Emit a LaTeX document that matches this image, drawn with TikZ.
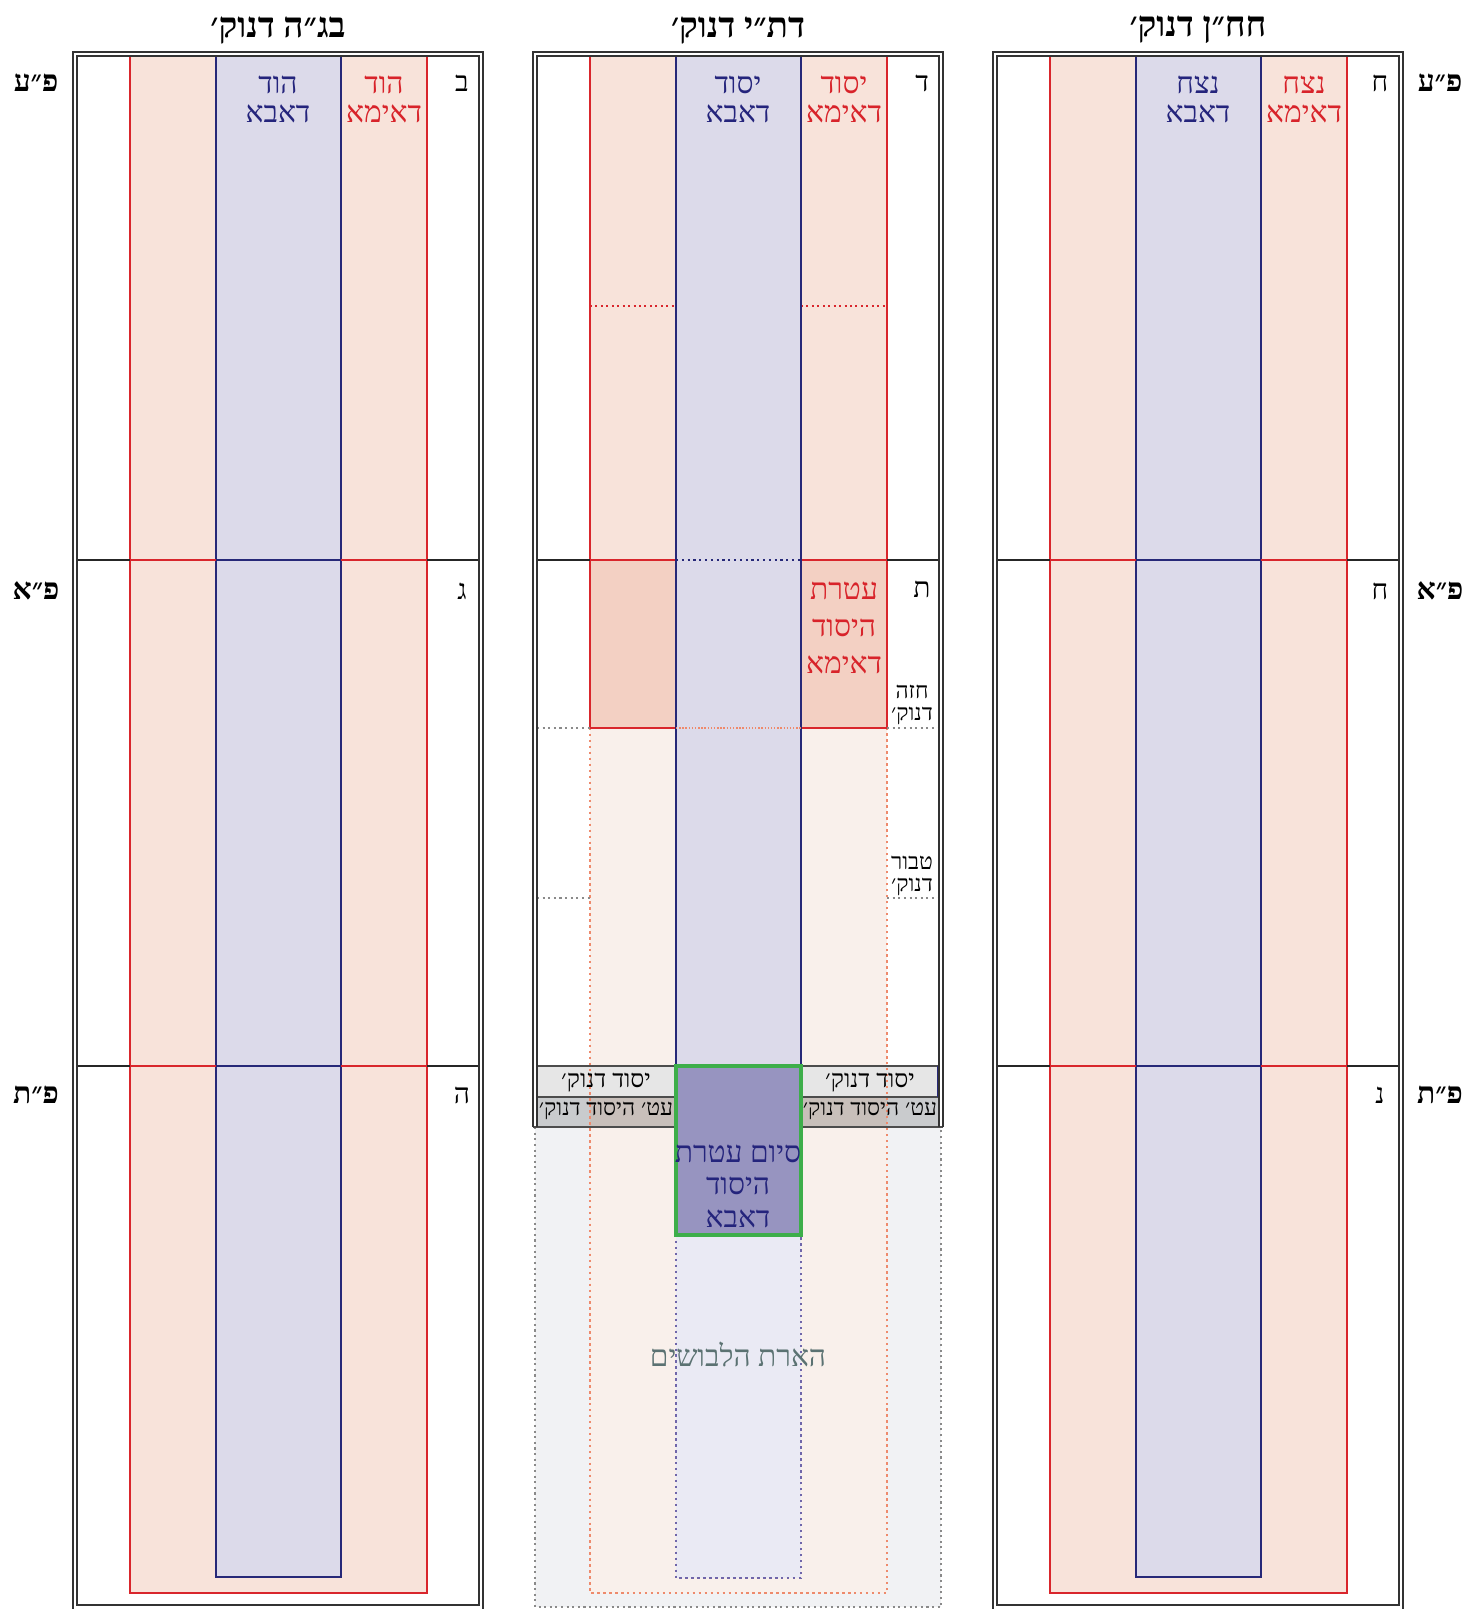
\documentclass[tikz,border=0pt]{standalone}
\usepackage{fontspec}
\setmainfont{Liberation Serif}
\newfontfamily\hebfont[Script=Hebrew]{Liberation Serif}
\TeXXeTstate=1
\usetikzlibrary{positioning}
\usetikzlibrary{calc}

\definecolor{pinkfill}{HTML}{F8E3DA}
\definecolor{deeppink}{HTML}{F3D0C3}
\definecolor{palepink}{HTML}{F9F0EB}
\definecolor{lavfill}{HTML}{DCDAEA}
\definecolor{palelav}{HTML}{EAEAF4}
\definecolor{grayzone}{HTML}{F1F2F4}
\definecolor{redln}{HTML}{D9262C}
\definecolor{blueln}{HTML}{262878}
\definecolor{redtxt}{HTML}{D8232A}
\definecolor{bluetxt}{HTML}{24247C}
\definecolor{greenln}{HTML}{3DAE4A}
\definecolor{boxfill}{HTML}{9794C0}
\definecolor{bandtop}{HTML}{E6E6E6}
\definecolor{bandlow}{HTML}{C9CBCD}
\definecolor{bandpink}{HTML}{C8BFBA}
\definecolor{dotorange}{HTML}{EE8A6C}
\definecolor{dotpurple}{HTML}{7066AA}
\definecolor{dotgray}{HTML}{8A8A8A}
\definecolor{glowtxt}{HTML}{5B7272}

\newcommand{\rl}[1]{\beginR #1\endR}

\begin{document}
\begin{tikzpicture}[x=0.02cm,y=-0.02cm,
    frame/.style={draw=black!80, line width=0.9pt},
    rowline/.style={draw=black!85, line width=1.1pt},
    redline/.style={draw=redln, line width=1.1pt},
    blueline/.style={draw=blueln, line width=1.1pt},
    reddots/.style={draw=dotorange, line width=1.4pt, dotted},
    bluedots/.style={draw=dotpurple, line width=1.4pt, dotted},
    graydots/.style={draw=dotgray, line width=1.2pt, dotted},
    title/.style={font=\hebfont\bfseries\fontsize{20}{20}\selectfont},
    side/.style={font=\hebfont\bfseries\fontsize{17}{17}\selectfont},
    letter/.style={font=\hebfont\fontsize{16}{16}\selectfont},
    coltext/.style={font=\hebfont\fontsize{17}{16.5}\selectfont, align=center},
    small/.style={font=\hebfont\fontsize{13}{13}\selectfont, align=center},
    bandtext/.style={font=\hebfont\fontsize{14}{14}\selectfont}]
\useasboundingbox (0,0) rectangle (1467,1609);

% side panels
\foreach \px in {73,993}{
  \fill[pinkfill] (\px+57,56) rectangle (\px+354,1593);
  \fill[lavfill] (\px+143,56) rectangle (\px+268,1577);
  \draw[redline] (\px+57,56) -- (\px+57,1593) -- (\px+354,1593) -- (\px+354,56);
  \draw[blueline] (\px+143,56) -- (\px+143,1577) -- (\px+268,1577) -- (\px+268,56);
  \foreach \ry in {560,1066}{
    \draw[rowline] (\px+4,\ry) -- (\px+57,\ry) (\px+354,\ry) -- (\px+406,\ry);
    \draw[redline] (\px+57,\ry) -- (\px+143,\ry) (\px+268,\ry) -- (\px+354,\ry);
    \draw[blueline] (\px+143,\ry) -- (\px+268,\ry);
  }
  \draw[frame] (\px,52) rectangle (\px+410,1612);
  \draw[frame] (\px+4,56) rectangle (\px+406,1605);
}

% middle panel, lower part
\fill[grayzone] (535,1127) rectangle (941,1607);
\draw[graydots] (535,1127) -- (535,1607) -- (941,1607) -- (941,1127);
\fill[palepink] (590,728) rectangle (887,1593);
\fill[bandtop] (537,1066) rectangle (939,1097);
\fill[bandlow] (537,1097) rectangle (939,1127);
\fill[bandpink] (590,1097) rectangle (887,1127);
\draw[reddots] (590,728) -- (590,1593) -- (887,1593) -- (887,728);
\fill[palelav] (676,1235) rectangle (801,1578);
\draw[bluedots] (676,1235) -- (676,1578) -- (801,1578) -- (801,1235);

% middle panel, upper part
\fill[pinkfill] (590,56) rectangle (887,560);
\fill[deeppink] (590,560) rectangle (887,728);
\fill[lavfill] (676,56) rectangle (801,1066);
\draw[redline] (590,56) -- (590,728) -- (676,728) (801,728) -- (887,728) -- (887,56);
\draw[redline] (590,560) -- (676,560) (801,560) -- (887,560);
\draw[draw=redln, line width=1.1pt, dotted] (590,306) -- (676,306) (801,306) -- (887,306);
\draw[blueline] (676,56) -- (676,1066) (801,56) -- (801,1066);
\draw[draw=blueln, line width=1.3pt, dotted] (676,560) -- (801,560);
\draw[draw=dotorange, line width=0.8pt, densely dotted] (676,728) -- (801,728);
\draw[rowline] (537,560) -- (590,560) (887,560) -- (939,560);
\draw[graydots] (537,728) -- (590,728) (887,728) -- (939,728);
\draw[graydots] (537,898) -- (590,898) (887,898) -- (939,898);

% bands
\draw[draw=black!70, line width=1.1pt] (537,1066) -- (939,1066) (537,1097) -- (939,1097) (533,1127) -- (943,1127);
\draw[blueline] (938,1066) -- (938,1097);
\draw[draw=greenln, line width=2.8pt, fill=boxfill] (676,1066) rectangle (801,1235);

% middle frame
\draw[frame] (533,1127) -- (533,52) -- (943,52) -- (943,1127);
\draw[frame] (537,1127) -- (537,56) -- (939,56) -- (939,1127);

% titles
\node[title] (tL) at (278,30) {\rl{בג״ה דנוק׳}};
\node[title] (tM) at (738,30) {\rl{דת״י דנוק׳}};
\node[title] (tR) at (1198,30) {\rl{חח״ן דנוק׳}};

% side labels
\node[side] (peL) at (36,83) {\rl{פ״ע}};
\node[side] (paL) at (36,591) {\rl{פ״א}};
\node[side] (ptL) at (36,1095) {\rl{פ״ת}};
\node[side] (peR) at (1440,83) {\rl{פ״ע}};
\node[side] (paR) at (1440,591) {\rl{פ״א}};
\node[side] (ptR) at (1440,1095) {\rl{פ״ת}};

% row letters
\node[letter] (l1) at (462,83) {\rl{ב}};
\node[letter] (l2) at (462,591) {\rl{ג}};
\node[letter] (l3) at (462,1095) {\rl{ה}};
\node[letter] (m1) at (922,83) {\rl{ד}};
\node[letter] (m2) at (922,589) {\rl{ת}};
\node[letter] (r1) at (1380,83) {\rl{ח}};
\node[letter] (r2) at (1380,591) {\rl{ח}};
\node[letter] (r3) at (1380,1095) {\rl{נ}};

% column texts
\node[coltext, bluetxt] (hodA) at (278,99) {\rl{הוד}\\\rl{דאבא}};
\node[coltext, redtxt] (hodI) at (384,99) {\rl{הוד}\\\rl{דאימא}};
\node[coltext, bluetxt] (yesA) at (738,99) {\rl{יסוד}\\\rl{דאבא}};
\node[coltext, redtxt] (yesI) at (844,99) {\rl{יסוד}\\\rl{דאימא}};
\node[coltext, bluetxt] (nezA) at (1198,99) {\rl{נצח}\\\rl{דאבא}};
\node[coltext, redtxt] (nezI) at (1304,99) {\rl{נצח}\\\rl{דאימא}};
\node[coltext, redtxt, font=\hebfont\fontsize{17}{21}\selectfont] (atI) at (844,628) {\rl{עטרת}\\\rl{היסוד}\\\rl{דאימא}};
\node[coltext, bluetxt, font=\hebfont\fontsize{17}{18.5}\selectfont] (siyum) at (738,1186) {\rl{סיום עטרת}\\\rl{היסוד}\\\rl{דאבא}};

% small labels
\node[small] (haze) at (912,705) {\rl{חזה}\\\rl{דנוק׳}};
\node[small] (tabur) at (912,876) {\rl{טבור}\\\rl{דנוק׳}};
\node[bandtext] (ydL) at (606,1083) {\rl{יסוד דנוק׳}};
\node[bandtext] (ydR) at (870,1083) {\rl{יסוד דנוק׳}};
\node[bandtext, font=\hebfont\fontsize{13}{13}\selectfont] (atL) at (606,1111) {\rl{עט׳ היסוד דנוק׳}};
\node[bandtext, font=\hebfont\fontsize{13}{13}\selectfont] (atR) at (870,1111) {\rl{עט׳ היסוד דנוק׳}};
\node[coltext, glowtxt] (ohr) at (738,1354) {\rl{הארת הלבושים}};
\end{tikzpicture}
\end{document}
